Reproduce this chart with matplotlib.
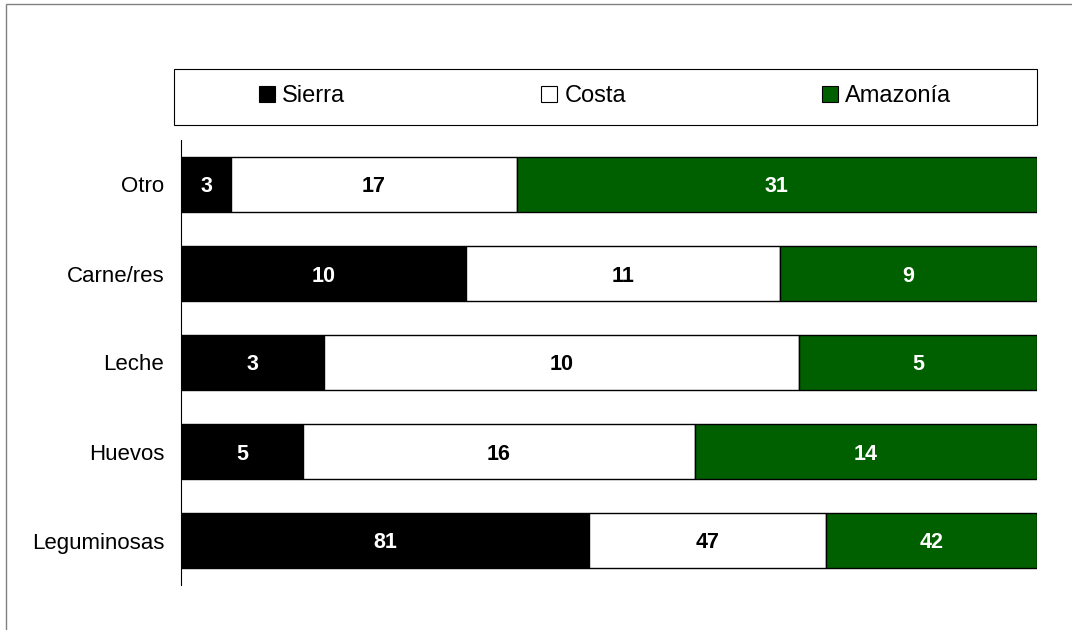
import numpy as np
from matplotlib import pyplot as plt
from matplotlib.patches import Rectangle

plt.rcParams['font.family'] = ['Liberation Sans', 'DejaVu Sans']

categories = ['Leguminosas', 'Huevos', 'Leche', 'Carne/res', 'Otro']
sierra = [81, 5, 3, 10, 3]
costa = [47, 16, 10, 11, 17]
amazonia = [42, 14, 5, 9, 31]
series_names = ['Sierra', 'Costa', 'Amazonía']

colors = ['#000000', '#ffffff', '#006000']
text_colors = ['white', 'black', 'white']

W, H = 1072, 630
fig = plt.figure(figsize=(W / 100, H / 100), dpi=100)
ax = fig.add_axes([181 / W, 45 / H, 856 / W, 445 / H])

data = np.array([sierra, costa, amazonia], dtype=float)
shares = data / data.sum(axis=0)
y = np.arange(len(categories))
left = np.zeros(len(categories))

for i, name in enumerate(series_names):
    bars = ax.barh(y, shares[i], left=left, height=0.62, color=colors[i],
                   edgecolor='black', linewidth=1, label=name)
    for j, b in enumerate(bars):
        ax.text(left[j] + shares[i][j] / 2, y[j], str(int(data[i][j])),
                ha='center', va='center_baseline', fontsize=15.5,
                fontweight='bold', color=text_colors[i])
    left += shares[i]

ax.set_xlim(0, 1)
ax.set_ylim(-0.5, len(categories) - 0.5)
ax.set_yticks(y)
ax.set_yticklabels(categories, fontsize=16)
ax.tick_params(axis='y', length=0, pad=12)
ax.set_xticks([])
for s in ['top', 'right', 'bottom']:
    ax.spines[s].set_visible(False)
ax.spines['left'].set_linewidth(0.8)

# legend box
fig.add_artist(Rectangle((174 / W, 1 - 125 / H), 863 / W, 56 / H,
                         transform=fig.transFigure, facecolor='white',
                         edgecolor='black', linewidth=0.8))
leg = fig.legend(loc='center', bbox_to_anchor=(605 / W, 1 - 96 / H),
                 ncol=3, frameon=False, fontsize=17, handlelength=0.68,
                 handleheight=0.68, handletextpad=0.3, columnspacing=8.3)
for h in leg.legend_handles:
    h.set_linewidth(0.8)

# outer frame
fig.add_artist(Rectangle((6 / W, -0.1), 1.2, 1.1 - 4 / H,
                         transform=fig.transFigure, facecolor='none',
                         edgecolor='#808080', linewidth=1))

fig.savefig('out.png', dpi=100)
